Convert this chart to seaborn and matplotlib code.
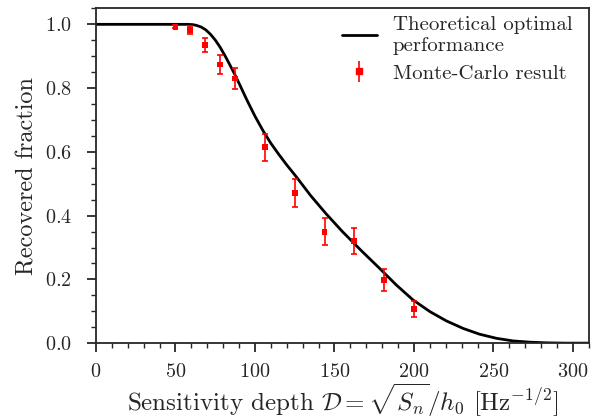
import numpy as np
import pandas as pd
import seaborn as sns
import matplotlib.pyplot as plt
from matplotlib.ticker import MultipleLocator

# theoretical curve
theory_x = [0, 50, 58, 61, 63, 66, 69, 72, 75, 78, 81, 84, 87, 90, 95, 100, 105,
            110, 115, 120, 125.8, 135, 144.7, 155, 166.7, 178.3, 189, 199.3, 210,
            220.3, 231, 241.3, 252, 262.3, 273, 283.3, 295, 310]
theory_y = [1.0, 1.0, 1.0, 0.999, 0.997, 0.992, 0.983, 0.969, 0.951, 0.929, 0.903,
            0.875, 0.846, 0.815, 0.762, 0.712, 0.667, 0.627, 0.592, 0.559, 0.523,
            0.463, 0.406, 0.35, 0.291, 0.235, 0.182, 0.136, 0.099, 0.07, 0.046,
            0.028, 0.015, 0.007, 0.003, 0.001, 0.0, 0.0]

# monte-carlo points
mc_depth = [50, 59.375, 68.75, 78.125, 87.5, 106.25, 125, 143.75, 162.5, 181.25, 200]
mc_frac = [0.992, 0.982, 0.935, 0.874, 0.830, 0.614, 0.471, 0.350, 0.320, 0.197, 0.107]
mc_err = [0.005, 0.013, 0.022, 0.030, 0.033, 0.043, 0.045, 0.043, 0.040, 0.035, 0.025]

theory = pd.DataFrame({'depth': theory_x, 'frac': theory_y})
mc = pd.DataFrame({'depth': mc_depth, 'frac': mc_frac, 'err': mc_err})

sns.set_style('ticks')
plt.rcParams['font.family'] = ['cmr10', 'DejaVu Serif']
plt.rcParams['mathtext.fontset'] = 'cm'
plt.rcParams['axes.formatter.use_mathtext'] = True
plt.rcParams['axes.unicode_minus'] = False

fig, ax = plt.subplots(figsize=(5.96, 4.2), dpi=100)
fig.subplots_adjust(left=0.161, right=0.988, top=0.980, bottom=0.183)

sns.lineplot(data=theory, x='depth', y='frac', color='black', lw=2,
             label='Theoretical optimal\nperformance', ax=ax)
ax.errorbar(mc['depth'], mc['frac'], yerr=mc['err'], fmt='none', ecolor='red',
            elinewidth=1.2, capsize=2.5, capthick=1.2)
sns.scatterplot(data=mc, x='depth', y='frac', color='red', marker='s', s=18,
                edgecolor='none', ax=ax, zorder=3)

# legend handle with errorbar look
eb = ax.errorbar([], [], yerr=[], fmt='s', color='red', ms=4, elinewidth=1.2,
                 capsize=2.5, capthick=1.2)
handles, labels = ax.get_legend_handles_labels()
leg = ax.legend([handles[0], eb], ['Theoretical optimal\nperformance', 'Monte-Carlo result'],
                loc='upper right', bbox_to_anchor=(1.0, 1.027), fontsize=15,
                frameon=False, handlelength=1.7, handletextpad=0.75,
                borderaxespad=0.4, labelspacing=0.45)

ax.set_xlim(0, 310)
ax.set_ylim(0, 1.05)
ax.xaxis.set_major_locator(MultipleLocator(50))
ax.xaxis.set_minor_locator(MultipleLocator(10))
ax.yaxis.set_major_locator(MultipleLocator(0.2))
ax.yaxis.set_minor_locator(MultipleLocator(0.05))
ax.tick_params(which='major', length=6.5, width=1.3, labelsize=14.5, direction='out')
ax.tick_params(which='minor', length=3.5, width=1.0, direction='out')
ax.tick_params(axis='x', which='major', pad=8)
ax.tick_params(axis='y', which='major', pad=11)
for s in ax.spines.values():
    s.set_linewidth(1.3)

ax.set_xlabel(r'Sensitivity depth $\mathcal{D} = \sqrt{S_n}/h_0$ [Hz$^{-1/2}$]',
              fontsize=18, labelpad=0)
ax.set_ylabel('Recovered fraction', fontsize=17.5, labelpad=4)

fig.savefig('out.png', dpi=100)
